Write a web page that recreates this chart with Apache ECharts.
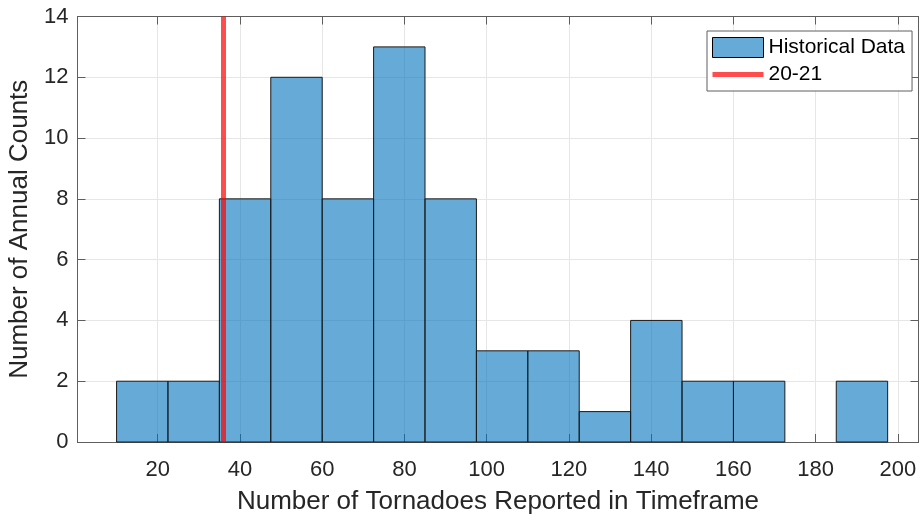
<!DOCTYPE html>
<html>
<head>
<meta charset="utf-8">
<script src="https://cdn.jsdelivr.net/npm/echarts@6/dist/echarts.min.js"></script>
<style>
  html, body { margin: 0; padding: 0; background: #fff; }
  #chart { width: 920px; height: 514px; }
</style>
</head>
<body>
<div id="chart"></div>
<script>
// Histogram bin edges (tornado counts) and number of years falling in each bin
const binEdges = [10, 22.5, 35, 47.5, 60, 72.5, 85, 97.5, 110, 122.5, 135, 147.5, 160, 172.5, 185, 197.5];
const binCounts = [2, 2, 8, 12, 8, 13, 8, 3, 3, 1, 4, 2, 2, 0, 2];
// Current season total
const seasonLabel = '20-21';
const seasonValue = 36;
// Axis ticks
const xTicks = [20, 40, 60, 80, 100, 120, 140, 160, 180, 200];
const yTicks = [0, 2, 4, 6, 8, 10, 12, 14];

const histData = binCounts.map((c, i) => [binEdges[i], binEdges[i + 1], c]);

const textColor = '#262626';
const lineColor = '#5e5e5e';
const fontFamily = 'Liberation Sans, Arial, sans-serif';
const xMin = 0.5, xMax = 205;
const yMin = 0, yMax = 14;

const chart = echarts.init(document.getElementById('chart'), null, { renderer: 'canvas' });

const tickStyle = { show: true, inside: true, length: 8, lineStyle: { color: lineColor, width: 1 } };
const baseX = {
  type: 'value', min: xMin, max: xMax,
  axisLine: { show: true, onZero: false, lineStyle: { color: lineColor, width: 1 } }
};
const baseY = {
  type: 'value', min: yMin, max: yMax, interval: 2,
  axisLine: { show: true, onZero: false, lineStyle: { color: lineColor, width: 1 } },
  axisTick: tickStyle
};

chart.setOption({
  animation: false,
  backgroundColor: '#fff',
  grid: { left: 77.5, top: 16.5, right: 1.5, bottom: 72, containLabel: false, outerBoundsMode: 'none' },
  legend: {
    show: true,
    orient: 'vertical',
    left: 707, top: 31,
    padding: [6, 7, 6, 5],
    itemWidth: 51, itemHeight: 20, itemGap: 6,
    backgroundColor: '#fff',
    borderColor: lineColor, borderWidth: 1, borderRadius: 0,
    textStyle: { color: '#000', fontSize: 21, fontFamily: fontFamily },
    data: [
      { name: 'Historical Data', icon: 'rect',
        itemStyle: { color: 'rgba(0,114,189,0.6)', borderColor: '#000', borderWidth: 1 } },
      { name: seasonLabel, icon: 'path://M0,0 L51,0 L51,5 L0,5 Z',
        itemStyle: { color: 'rgba(255,0,0,0.7)', borderWidth: 0 } }
    ]
  },
  xAxis: [
    Object.assign({}, baseX, {
      position: 'bottom',
      name: 'Number of Tornadoes Reported in Timeframe',
      nameLocation: 'middle', nameGap: 47,
      nameTextStyle: { color: textColor, fontSize: 26, fontFamily: fontFamily },
      axisLabel: { show: true, color: textColor, fontSize: 22, fontFamily: fontFamily, margin: 17, customValues: xTicks },
      axisTick: Object.assign({}, tickStyle, { customValues: xTicks }),
      splitLine: { show: true, lineStyle: { color: '#e6e6e6', width: 1 } }
    }),
    Object.assign({}, baseX, {
      position: 'top',
      axisLabel: { show: false },
      axisTick: Object.assign({}, tickStyle, { customValues: xTicks }),
      splitLine: { show: false }
    })
  ],
  yAxis: [
    Object.assign({}, baseY, {
      position: 'left',
      name: 'Number of Annual Counts',
      nameLocation: 'middle', nameGap: 44, nameRotate: 90,
      nameTextStyle: { color: textColor, fontSize: 26, fontFamily: fontFamily },
      axisLabel: { show: true, color: textColor, fontSize: 22, fontFamily: fontFamily, margin: 9 },
      splitLine: { show: true, lineStyle: { color: '#e6e6e6', width: 1 } }
    }),
    Object.assign({}, baseY, {
      position: 'right',
      axisLabel: { show: false },
      splitLine: { show: false }
    })
  ],
  series: [
    {
      name: 'Historical Data',
      type: 'custom',
      xAxisIndex: 0, yAxisIndex: 0,
      z: 2,
      encode: { x: [0, 1], y: 2 },
      data: histData,
      renderItem: function (params, api) {
        if (api.value(2) <= 0) return null;
        const top = api.coord([api.value(0), api.value(2)]);
        const bot = api.coord([api.value(1), 0]);
        return {
          type: 'rect',
          shape: { x: top[0], y: top[1], width: bot[0] - top[0], height: bot[1] - top[1] },
          style: { fill: 'rgba(0,114,189,0.6)', stroke: '#1a1a1a', lineWidth: 1 }
        };
      }
    },
    {
      name: seasonLabel,
      type: 'line',
      xAxisIndex: 0, yAxisIndex: 0,
      z: 3,
      symbol: 'none',
      lineStyle: { color: 'rgba(255,0,0,0.7)', width: 5 },
      itemStyle: { color: 'rgba(255,0,0,0.7)' },
      data: [[seasonValue, yMin], [seasonValue, yMax]]
    }
  ]
});
</script>
</body>
</html>
